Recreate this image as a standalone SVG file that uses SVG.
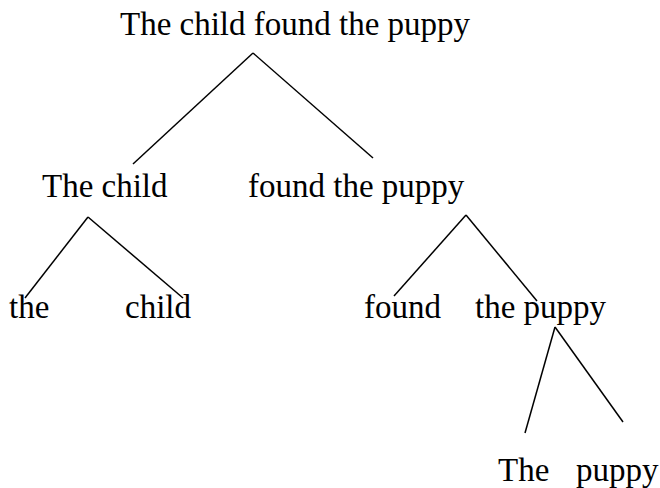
<svg xmlns="http://www.w3.org/2000/svg" width="660" height="488" viewBox="0 0 660 488">
<style>
text{font-family:"Liberation Serif","Times New Roman",serif;font-size:33px;fill:#000}
line{stroke:#000;stroke-width:1.5;fill:none}
</style>
<rect width="660" height="488" fill="#fff"/>
<g id="connectors">
<line x1="253" y1="53" x2="133" y2="164"/>
<line x1="253" y1="53" x2="373" y2="158"/>
<line x1="88" y1="217" x2="25" y2="298"/>
<line x1="88" y1="217" x2="183" y2="298"/>
<line x1="466" y1="215" x2="394" y2="296"/>
<line x1="466" y1="215" x2="537" y2="301"/>
<line x1="555" y1="327" x2="525" y2="433"/>
<line x1="555" y1="327" x2="623" y2="422"/>
</g>
<g id="n-root"><text x="120" y="35">The child found the puppy</text></g>
<g id="n-thechild"><text x="42" y="197">The child</text></g>
<g id="n-foundthepuppy"><text x="248" y="197">found the puppy</text></g>
<g id="n-the"><text x="9" y="318">the</text></g>
<g id="n-child"><text x="125" y="318">child</text></g>
<g id="n-found"><text x="364" y="318">found</text></g>
<g id="n-thepuppy"><text x="475" y="318">the puppy</text></g>
<g id="n-The"><text x="498" y="481">The</text></g>
<g id="n-puppy"><text x="576" y="481">puppy</text></g>
</svg>
